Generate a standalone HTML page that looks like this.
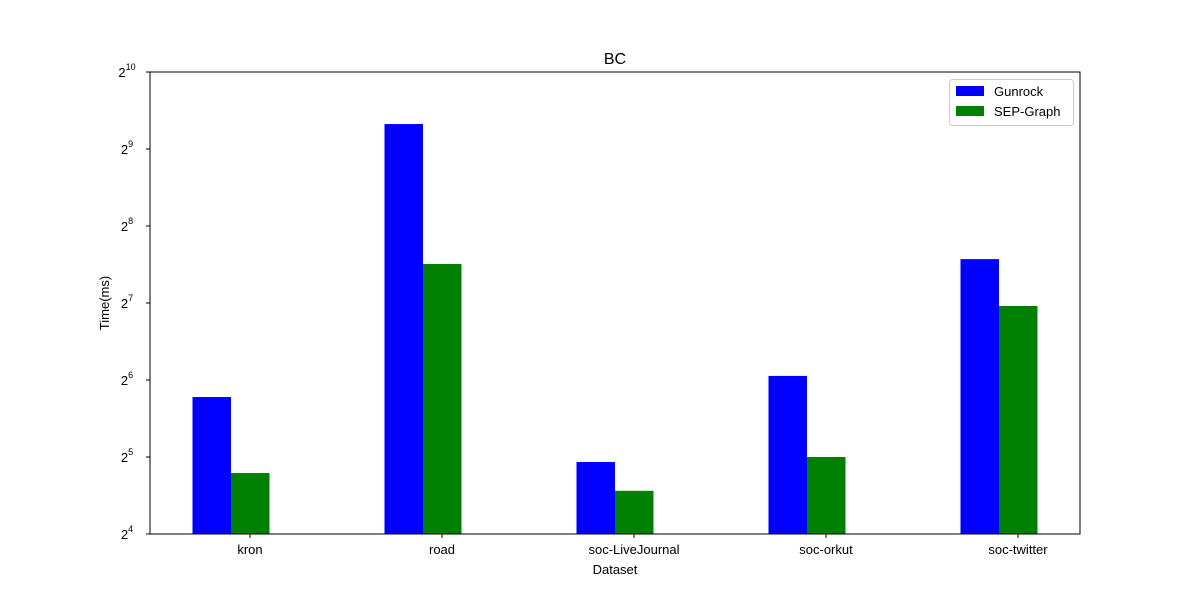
<!DOCTYPE html>
<html><head><meta charset="utf-8"><style>
body{margin:0;background:#fff;}
text{font-family:"Liberation Sans","DejaVu Sans",sans-serif;fill:#000;}
</style></head><body>
<svg id="chart" width="1200" height="600" xmlns="http://www.w3.org/2000/svg">
<text x="615" y="64" font-size="16" text-anchor="middle">BC</text>
<g id="bars"></g>
<rect x="150" y="72" width="930" height="462" fill="none" stroke="#000" stroke-width="1"/>
<g id="yticks"></g>
<g id="xticks"></g>
<text x="615" y="574" font-size="13" text-anchor="middle">Dataset</text>
<text x="0" y="0" font-size="13" text-anchor="middle" transform="translate(109,303) rotate(-90)">Time(ms)</text>
<g>
<rect x="949.5" y="79.5" width="124" height="46" rx="3" fill="#fff" stroke="#ccc"/>
<g><rect x="956" y="86" width="28" height="10" fill="#0000ff"/><text x="994" y="96" font-size="13">Gunrock</text></g>
<g><rect x="956" y="106" width="28" height="10" fill="#008000"/><text x="994" y="116" font-size="13">SEP-Graph</text></g>
</g>
</svg>
<script>
const categories=["kron","road","soc-LiveJournal","soc-orkut","soc-twitter"];
const gunrock=[54.9,641,30.6,66.4,190];
const sepGraph=[27.7,181.8,23.6,32,124.6];
const yTickExps=[4,5,6,7,8,9,10];
const NS="http://www.w3.org/2000/svg";
const yTop=72,yBot=534,eMin=4,eMax=10;
function yScale(v){const e=Math.log2(v);return yBot-(e-eMin)/(eMax-eMin)*(yBot-yTop);}
function xCenter(i){return 231+192*i;}
function xTick(i){return 250+192*i;}
const bw=38.5;
function mk(tag,attrs,parent){const el=document.createElementNS(NS,tag);for(const k in attrs)el.setAttribute(k,attrs[k]);parent.appendChild(el);return el;}
const bars=document.getElementById('bars');
categories.forEach((c,i)=>{
  const cx=xCenter(i);
  const yg=yScale(gunrock[i]);
  const r1=mk('rect',{x:cx-bw,y:yg,width:bw,height:yBot-yg,fill:'#0000ff'},bars);
  
  
  const ys=yScale(sepGraph[i]);
  const r2=mk('rect',{x:cx,y:ys,width:bw,height:yBot-ys,fill:'#008000'},bars);
  
  
});
const yt=document.getElementById('yticks');
yTickExps.forEach(e=>{
  const y=yScale(Math.pow(2,e));
  const l=mk('line',{x1:146,x2:150,y1:y,y2:y,stroke:'#000'},yt);
  
  
  const t=mk('text',{x:127,y:y+5,'font-size':13,'text-anchor':'middle'},yt);
  
  
  t.textContent='2';
  const s=mk('tspan',{dy:-7,'font-size':9},t);
  s.textContent=String(e);
});
const xt=document.getElementById('xticks');
categories.forEach((c,i)=>{
  const x=xTick(i);
  const l=mk('line',{x1:x,x2:x,y1:534,y2:538,stroke:'#000'},xt);
  
  
  const t=mk('text',{x:x,y:554,'font-size':13,'text-anchor':'middle'},xt);
  
  
  t.textContent=c;
});
</script>
</body></html>
